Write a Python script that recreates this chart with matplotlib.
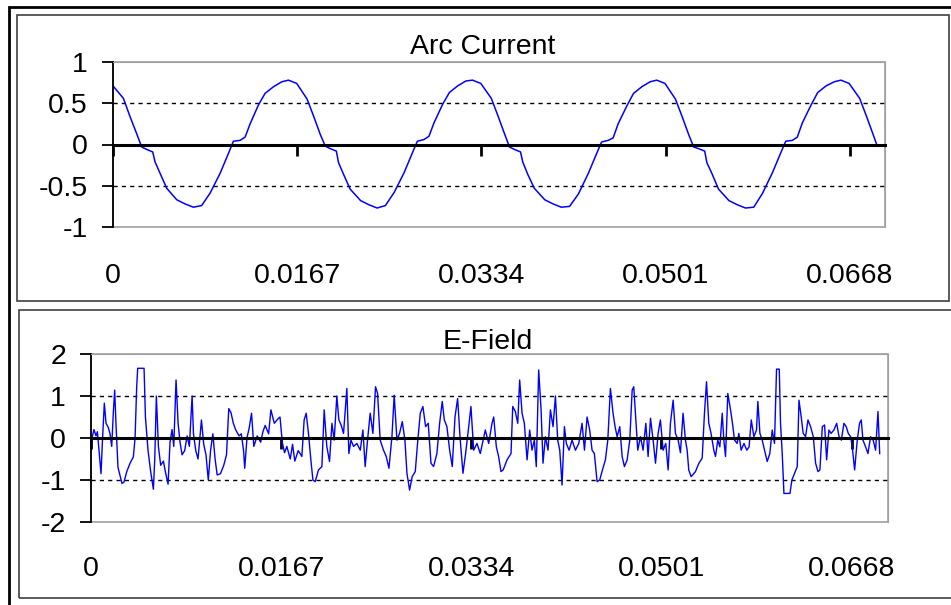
import numpy as np
import matplotlib.pyplot as plt
from matplotlib.patches import Rectangle
from matplotlib.ticker import FuncFormatter

plt.rcParams['font.family'] = ['Liberation Sans', 'DejaVu Sans']
plt.rcParams['axes.unicode_minus'] = False

#%% data (time in ms)
arc_t = [0, 0.94, 1.54, 2.15, 2.6, 3.06, 3.6, 3.81, 4.27, 4.87, 5.78, 6.53, 7.29, 8.04, 8.8,
         9.71, 10.46, 10.92, 11.52, 11.98, 12.43, 13.19, 13.79, 14.55, 15.3, 15.91,
         16.66, 17.6, 18.2, 18.8, 19.25, 19.7, 20.25, 20.45, 20.9, 21.5, 22.45, 23.2, 23.95, 24.7,
         25.5, 26.4, 27.15, 27.6, 28.2, 28.65, 29.1, 29.9, 30.5, 31.25, 32.0, 32.6,
         33.35, 34.3, 34.9, 35.5, 35.95, 36.4, 36.95, 37.15, 37.6, 38.2, 39.15, 39.9, 40.65, 41.4,
         42.2, 43.1, 43.85, 44.3, 44.9, 45.35, 45.8, 46.6, 47.2, 47.95, 48.7, 49.3,
         50.05, 51.0, 51.6, 52.2, 52.65, 53.1, 53.65, 53.85, 54.3, 54.9, 55.85, 56.6, 57.35, 58.1,
         58.9, 59.8, 60.55, 61.0, 61.6, 62.05, 62.5, 63.3, 63.9, 64.65, 65.4, 66.0,
         66.75, 67.7, 68.3, 68.9, 69.3]
arc_i = [0.71, 0.56, 0.34, 0.13, -0.03, -0.06, -0.09, -0.21, -0.35, -0.53, -0.67, -0.72, -0.76, -0.74, -0.59,
         -0.35, -0.11, 0.04, 0.05, 0.09, 0.25, 0.48, 0.62, 0.70, 0.76, 0.78,
         0.74, 0.55, 0.34, 0.12, -0.02, -0.05, -0.08, -0.22, -0.36, -0.54, -0.68, -0.73, -0.77, -0.74,
         -0.58, -0.34, -0.10, 0.04, 0.06, 0.10, 0.26, 0.49, 0.63, 0.71, 0.77, 0.78,
         0.74, 0.56, 0.35, 0.13, -0.03, -0.06, -0.09, -0.21, -0.36, -0.53, -0.67, -0.72, -0.76, -0.75,
         -0.60, -0.35, -0.11, 0.03, 0.05, 0.08, 0.25, 0.47, 0.62, 0.70, 0.76, 0.78,
         0.74, 0.55, 0.34, 0.12, -0.03, -0.05, -0.08, -0.22, -0.35, -0.54, -0.68, -0.73, -0.77, -0.76,
         -0.59, -0.34, -0.10, 0.04, 0.05, 0.09, 0.26, 0.48, 0.63, 0.71, 0.76, 0.78,
         0.74, 0.56, 0.35, 0.13, -0.02]

ef_t = [0.0, 0.09, 0.26, 0.44, 0.56, 0.70, 0.88, 1.0, 1.17, 1.32, 1.52, 1.67, 1.82, 1.96, 2.08,
        2.20, 2.37, 2.55, 2.72, 2.90, 3.14, 3.43, 3.72, 3.87, 4.01, 4.10, 4.66, 4.78, 5.01, 5.24,
        5.48, 5.60, 5.74, 5.92, 6.12, 6.36, 6.53, 6.77, 6.94, 7.12, 7.27, 7.47, 7.65, 7.82, 8.0,
        8.23, 8.44, 8.64, 8.88, 9.0, 9.2, 9.4, 9.7, 9.9, 10.1, 10.3, 10.5, 10.7, 10.9, 11.08,
        11.37, 11.66, 11.9, 12.1, 12.3, 12.5, 12.7, 13.0, 13.2, 13.4, 13.5, 13.7, 13.9, 14.1, 14.3,
        14.6, 14.9, 15.1, 15.3, 15.6, 15.8, 16.1, 16.4, 16.6, 16.8, 17.0, 17.2, 17.5, 17.7, 17.9,
        18.2, 18.52, 18.72, 18.90, 19.10, 19.31, 19.49, 19.69, 19.98, 20.28, 20.48, 20.71, 20.95, 21.16, 21.36,
        21.59, 21.77, 21.98, 22.18, 22.47, 22.65, 22.83, 23.06, 23.35, 23.65, 23.88, 24.08, 24.29, 24.52, 24.76,
        24.99, 25.17, 25.40, 25.69, 25.93, 26.17, 26.43, 26.63, 26.87, 27.10, 27.34, 27.57, 27.75, 27.98, 28.21,
        28.48, 28.68, 28.92, 29.15, 29.39, 29.62, 29.86, 30.09, 30.38, 30.62, 30.85, 31.03, 31.26, 31.50, 31.73,
        31.97, 32.20, 32.43, 32.67, 32.90, 33.14, 33.37, 33.61, 33.90, 34.19, 34.63, 34.93, 35.22, 35.37, 35.6,
        35.8, 36.01, 36.2, 36.54, 36.89, 37.04, 37.27, 37.48, 37.65, 37.86, 38.06, 38.30, 38.53, 38.73, 38.94,
        39.11, 39.32, 39.53, 39.70, 39.91, 40.14, 40.35, 40.58, 40.79, 40.99, 41.17, 41.37, 41.58, 41.75, 41.99,
        42.25, 42.55, 42.84, 43.13, 43.34, 43.57, 43.80, 44.01, 44.21, 44.45, 44.68, 44.92, 45.18, 45.39, 45.62,
        45.85, 46.03, 46.21, 46.44, 46.65, 46.85, 47.09, 47.32, 47.53, 47.67, 47.85, 48.02, 48.26, 48.49, 48.73,
        48.93, 49.14, 49.37, 49.58, 49.81, 50.01, 50.25, 50.48, 50.69, 50.89, 51.13, 51.33, 51.57, 51.77, 52.0,
        52.21, 52.36, 52.5, 52.71, 53.09, 53.39, 53.68, 53.88, 54.06, 54.26, 54.46, 54.70, 54.85, 55.05, 55.23,
        55.44, 55.58, 55.73, 55.93, 56.17, 56.34, 56.52, 56.75, 56.9, 57.1, 57.35, 57.6, 57.8, 57.99, 58.22,
        58.45, 58.57, 58.75, 58.95, 59.16, 59.39, 59.62, 59.83, 60.03, 60.21, 60.45, 60.56, 60.71, 60.86, 61.39,
        61.56, 61.8, 62.03, 62.18, 62.38, 62.55, 62.76, 62.97, 63.2, 63.44, 63.64, 63.85, 64.02, 64.23, 64.43,
        64.61, 64.81, 65.0, 65.25, 65.49, 65.7, 65.9, 66.13, 66.33, 66.51, 66.72, 66.86, 67.07, 67.3, 67.5,
        67.65, 67.8, 68.03, 68.24, 68.47, 68.7, 68.91, 69.12, 69.27]
ef_v = [-0.3, 0.0, 0.2, 0.05, 0.15, -0.3, -0.85, -0.1, 0.83, 0.35, 0.25, 0.1, -0.2, 0.6, 1.14,
        0.3, -0.7, -0.9, -1.08, -1.05, -0.8, -0.6, -0.45, 0.0, 1.2, 1.66, 1.66, 0.5, -0.3, -0.8,
        -1.22, -0.5, 1.0, -0.2, -0.65, -0.55, -0.8, -1.1, -0.1, 0.2, -0.2, 1.38, 0.35, -0.1, -0.4,
        -0.3, 0.05, -0.2, 1.0, 0.1, -0.3, -0.5, 0.43, -0.15, -0.4, -1.0, -0.3, 0.1, -0.5, -0.88,
        -0.85, -0.65, -0.4, 0.7, 0.6, 0.35, 0.2, 0.05, 0.1, -0.3, -0.72, 0.0, 0.25, 0.59, -0.2,
        0.05, -0.1, 0.15, 0.3, 0.1, 0.67, 0.35, 0.45, 0.5, -0.1, -0.35, -0.2, -0.5, -0.15, -0.55,
        -0.3, -0.44, 0.43, 0.59, 0.11, -0.52, -1.0, -1.04, -0.76, -0.68, 0.67, -0.2, -0.56, 0.35, -0.05,
        1.0, 0.43, 0.3, 0.11, 1.18, -0.37, -0.05, -0.2, -0.13, -0.29, 0.19, -0.68, -0.05, 0.59, 0.11,
        1.22, 1.06, -0.05, -0.29, -0.44, -0.72, 0.03, 1.02, -0.05, 0.11, 0.39, -0.05, -0.84, -1.24, -0.92,
        -0.8, -0.13, 0.59, 0.75, 0.27, 0.35, -0.6, -0.68, -0.37, 0.35, 0.87, 0.43, 0.27, -0.29, -0.68,
        0.5, 0.94, -0.05, -0.84, -0.37, 0.19, 0.75, -0.29, -0.13, -0.37, 0.19, -0.13, 0.35, 0.5, -0.21,
        -0.44, -0.8, -0.76, -0.52, -0.37, 0.75, 0.63, 0.35, 1.38, 0.59, 0.35, -0.52, 0.19, -0.29, -0.05,
        -0.68, 1.62, 0.67, -0.6, 0.03, -0.29, 0.67, 0.27, 1.0, -0.05, -0.29, -1.12, 0.27, -0.13, -0.29,
        -0.05, -0.29, -0.13, 0.35, -0.29, 0.5, 0.19, -0.29, -0.37, -1.04, -1.0, -0.76, -0.52, -0.05, 1.18,
        0.59, 0.27, 0.03, 0.27, -0.44, -0.68, -0.52, -0.05, 1.14, 1.22, 0.43, -0.29, 0.03, -0.29, 0.35,
        -0.44, 0.47, -0.05, -0.6, 0.11, 0.43, -0.29, -0.13, -0.76, 0.35, 0.9, 0.11, -0.05, -0.35, 0.59,
        -0.05, -0.29, -0.76, -0.92, -0.8, -0.6, -0.48, 0.59, 1.34, 0.35, 0.11, -0.29, -0.44, -0.05, -0.21,
        0.59, -0.05, -0.44, 1.06, 0.67, 0.35, -0.05, -0.13, 0.11, -0.29, -0.13, -0.29, -0.21, 0.43, 0.03,
        0.19, 0.87, 0.11, -0.05, -0.29, -0.56, -0.37, 0.19, -0.13, 1.64, 1.64, 0.35, -0.37, -1.32, -1.32,
        -1.0, -0.84, -0.68, 0.9, 0.5, 0.11, 0.03, 0.43, 0.27, 0.03, -0.6, -0.8, -0.76, 0.27, 0.31,
        -0.52, 0.19, 0.11, 0.19, 0.35, 0.03, -0.05, 0.35, 0.27, 0.11, 0.03, -0.21, -0.76, -0.05, 0.35,
        0.43, -0.05, -0.21, -0.37, 0.03, -0.05, -0.29, 0.63, -0.37]

xticks = [0, 0.0167, 0.0334, 0.0501, 0.0668]
xtick_labels = ['0', '0.0167', '0.0334', '0.0501', '0.0668']
arc_yticks = [-1, -0.5, 0, 0.5, 1]
ef_yticks = [-2, -1, 0, 1, 2]

#%%
W, H = 951, 605
FS = 20.5
fig = plt.figure(figsize=(W / 100, H / 100), dpi=100)


def px_rect(x0, y0, x1, y1, lw, color):
    # rectangle given in image pixels (top-left origin)
    r = Rectangle((x0 / W, 1 - y1 / H), (x1 - x0) / W, (y1 - y0) / H,
                  transform=fig.transFigure, fill=False, ec=color, lw=lw)
    fig.add_artist(r)


px_rect(8.5, 7, 960, 620, 2.0, 'black')
px_rect(17, 15, 949, 301, 1.2, '#404040')
px_rect(19, 310, 960, 598, 1.2, '#404040')


def style_axis(ax, yticks, pad_y):
    ax.set_xlim(0, 0.0700)
    ax.set_ylim(yticks[0], yticks[-1])
    ax.spines['bottom'].set_position(('data', 0))
    ax.spines['bottom'].set_linewidth(2.2)
    ax.spines['left'].set_linewidth(1.3)
    ax.spines['top'].set_color('#a0a0a0')
    ax.spines['right'].set_color('#a0a0a0')
    ax.add_patch(Rectangle((0, 0), 1, 1, transform=ax.transAxes, fill=False,
                           ec='#a0a0a0', lw=1.2, clip_on=False, zorder=0))
    for y in yticks[1:-1]:
        if y != 0:
            ax.axhline(y, color='black', lw=1, ls=(0, (3, 3)), zorder=1)
    ax.set_xticks(xticks)
    ax.set_xticklabels(xtick_labels)
    ax.set_yticks(yticks)
    ax.yaxis.set_major_formatter(FuncFormatter(lambda v, p: '%g' % v))
    ax.tick_params(axis='x', direction='out', length=8, width=2, pad=pad_y, labelsize=FS)
    ax.tick_params(axis='y', direction='out', length=8, width=1.3, pad=10, labelsize=FS)


ax1 = fig.add_axes([113 / W, 1 - 227 / H, 772 / W, 165 / H])
ax1.plot(np.array(arc_t) / 1000, arc_i, color='#0000ff', lw=1.1)
style_axis(ax1, arc_yticks, 77)
fig.text(483 / W, 1 - 47 / H, 'Arc Current', ha='center', va='center', fontsize=FS)

ax2 = fig.add_axes([91 / W, 1 - 522 / H, 797 / W, 168 / H])
ax2.plot(np.array(ef_t) / 1000, ef_v, color='#0000ff', lw=1.0)
style_axis(ax2, ef_yticks, 77)
fig.text(488 / W, 1 - 342 / H, 'E-Field', ha='center', va='center', fontsize=FS)

fig.savefig('out.png', dpi=100)
